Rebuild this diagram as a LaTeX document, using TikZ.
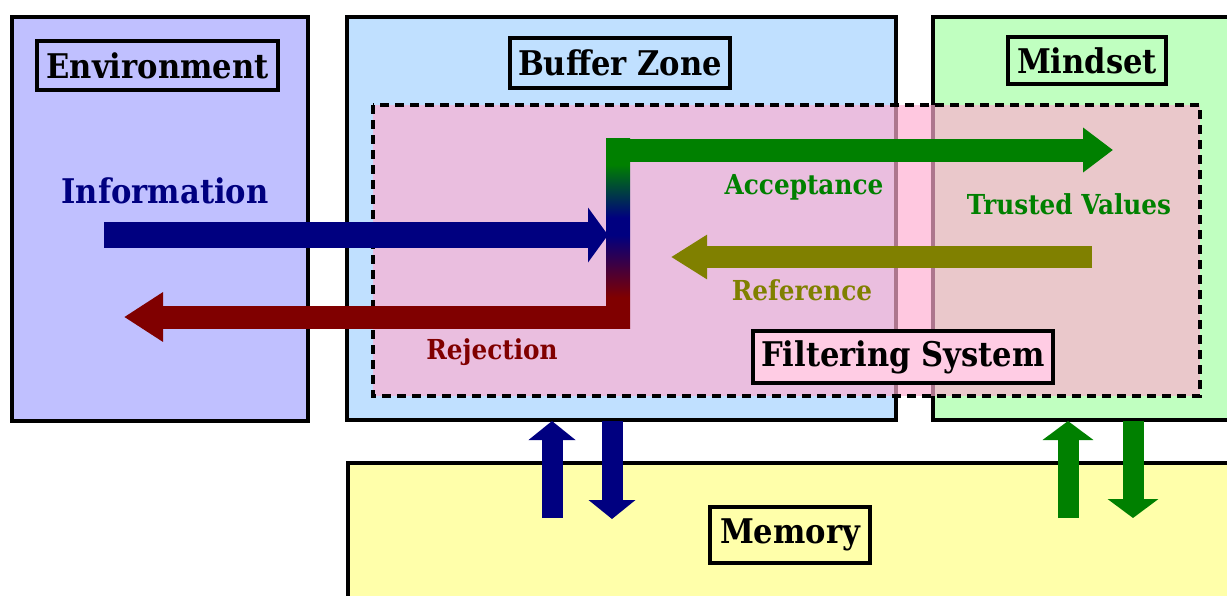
\documentclass[tikz,border=0pt]{standalone}
\usepackage{fontspec}
\setmainfont{DejaVu Serif Condensed}
\usetikzlibrary{arrows.meta}
\definecolor{envFill}{HTML}{C0C0FF}
\definecolor{bufFill}{HTML}{C0E0FF}
\definecolor{mindFill}{HTML}{C0FFC0}
\definecolor{memFill}{HTML}{FFFFAA}
\definecolor{filtFill}{HTML}{FFAED1}
\definecolor{filtTitle}{HTML}{FFCCE4}
\definecolor{cInfo}{HTML}{000080}
\definecolor{cAcc}{HTML}{008000}
\definecolor{cRej}{HTML}{800000}
\definecolor{cRef}{HTML}{808000}
\pgfdeclareverticalshading{gbr}{100bp}{color(0bp)=(cRej); color(33bp)=(cRej); color(49.5bp)=(cInfo); color(54bp)=(cInfo); color(68bp)=(cAcc); color(100bp)=(cAcc)}
\begin{document}
\begin{tikzpicture}[x=1pt,y=-1pt,
  zone/.style={draw=black, line width=3.6pt, anchor=north west, inner sep=0pt, outer sep=0pt},
  titlebox/.style={draw=black, line width=3.6pt, inner sep=0pt, font=\fontsize{34}{40}\selectfont\bfseries},
  lbl/.style={anchor=base, inner sep=0pt, font=\fontsize{27.5}{32}\selectfont\bfseries},
  biglbl/.style={anchor=base, inner sep=0pt, font=\fontsize{34}{40}\selectfont\bfseries},
  fat/.style={line width=#1},
]
\useasboundingbox (0,0) rectangle (1227,595);
\clip (0,0) rectangle (1227,595);
% zones
\node[zone, fill=envFill, minimum width=296pt, minimum height=404pt] (env) at (12,17) {};
\node[zone, fill=bufFill, minimum width=549pt, minimum height=403pt] (buf) at (347,17) {};
\node[zone, fill=mindFill, minimum width=310pt, minimum height=403pt] (mind) at (933,17) {};
\node[zone, fill=memFill, minimum width=900pt, minimum height=200pt] (mem) at (348,463) {};
% filtering system region
\node[anchor=north west, inner sep=0pt, outer sep=0pt, fill=filtFill, fill opacity=0.68,
      minimum width=827pt, minimum height=291pt] (filt) at (373,105) {};
\draw[line width=3.2pt, dash pattern=on 9pt off 6pt] (filt.north west) rectangle (filt.south east);
% coordinates
\coordinate (infoS) at (104,235);
\coordinate (junc) at (608,235);
\coordinate (accS) at (606,150);
\coordinate (trusted) at (1113,150);
\coordinate (rejS) at (630,317);
\coordinate (rejE) at (124,317);
\coordinate (refS) at (1092,257);
\coordinate (refE) at (671,257);
\coordinate (bUpS) at (552,518);
\coordinate (bUpE) at (552,421);
\coordinate (bDnS) at (612,421);
\coordinate (bDnE) at (612,519);
\coordinate (gUpS) at (1068,518);
\coordinate (gUpE) at (1068,421);
\coordinate (gDnS) at (1133,421);
\coordinate (gDnE) at (1133,518);
% gradient bar
\shade[shading=gbr] (606,138) rectangle (630,328);
% arrows
\draw[cInfo, fat=26pt, -{Triangle[length=20pt,width=54pt]}] (infoS) -- (junc);
\draw[cAcc, fat=23pt, -{Triangle[length=30pt,width=43pt]}] (accS) -- (trusted);
\draw[cRej, fat=23pt, -{Triangle[length=39pt,width=47pt]}] (rejS) -- (rejE);
\draw[cRef, fat=22pt, -{Triangle[length=36pt,width=42pt]}] (refS) -- (refE);
% memory arrows
\draw[cInfo, fat=21pt, -{Triangle[length=19pt,width=46pt]}] (bUpS) -- (bUpE);
\draw[cInfo, fat=21pt, -{Triangle[length=19pt,width=46pt]}] (bDnS) -- (bDnE);
\draw[cAcc, fat=21pt, -{Triangle[length=19pt,width=50pt]}] (gUpS) -- (gUpE);
\draw[cAcc, fat=21pt, -{Triangle[length=19pt,width=50pt]}] (gDnS) -- (gDnE);
% titles
\node[titlebox, fill=envFill, minimum width=241pt, minimum height=49pt] (tEnv) at (157.5,65.5) {Environment};
\node[titlebox, fill=bufFill, minimum width=220pt, minimum height=50pt] (tBuf) at (620,63) {Buffer Zone};
\node[titlebox, fill=mindFill, minimum width=158pt, minimum height=47pt] (tMind) at (1087,60.5) {Mindset};
\node[titlebox, fill=filtTitle, minimum width=300pt, minimum height=52pt] (tFilt) at (903,357) {Filtering System};
\node[titlebox, fill=memFill, minimum width=160pt, minimum height=56pt] (tMem) at (790,535) {Memory};
% labels
\node[biglbl, text=cInfo] (lInfo) at (165,203) {Information};
\node[lbl, text=cAcc] (lAcc) at (804,194) {Acceptance};
\node[lbl, text=cAcc] (lTrust) at (1069,214) {Trusted Values};
\node[lbl, text=cRef] (lRef) at (802,300) {Reference};
\node[lbl, text=cRej] (lRej) at (492,359) {Rejection};
\end{tikzpicture}
\end{document}
